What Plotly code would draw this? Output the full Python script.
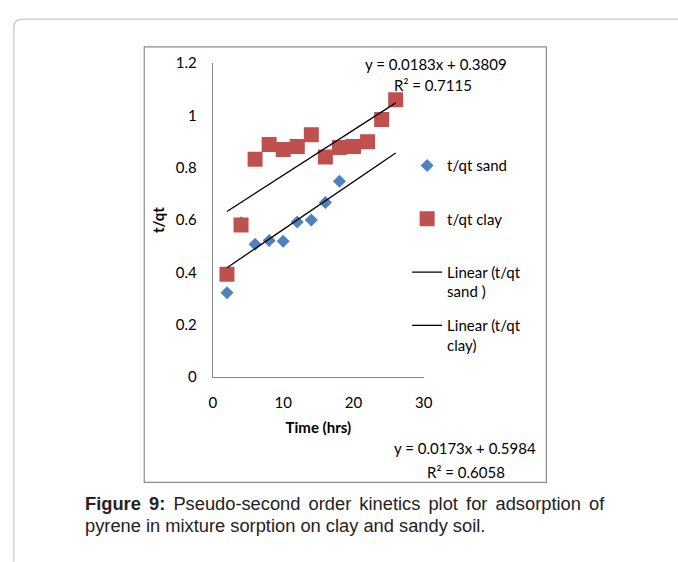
import plotly.graph_objects as go

W, H = 678, 562

# ---- data ----
time_sand = [2, 4, 6, 8, 10, 12, 14, 16, 18]
tqt_sand = [0.322, 0.590, 0.507, 0.522, 0.519, 0.593, 0.600, 0.667, 0.748]

time_clay = [2, 4, 6, 8, 10, 12, 14, 16, 18, 20, 22, 24, 26]
tqt_clay = [0.393, 0.581, 0.833, 0.889, 0.870, 0.881, 0.926, 0.841, 0.878, 0.881, 0.900, 0.985, 1.060]

trend_x = [2, 26]
sand_slope, sand_intercept, sand_r2 = 0.0183, 0.3809, 0.7115
clay_slope, clay_intercept, clay_r2 = 0.0173, 0.5984, 0.6058

x_ticks = [0, 10, 20, 30]
y_ticks = [0, 0.2, 0.4, 0.6, 0.8, 1.0, 1.2]
y_tick_labels = ["0", "0.2", "0.4", "0.6", "0.8", "1", "1.2"]

FONT = "Lato, Carlito, Calibri, sans-serif"
CAP_FONT = "Liberation Sans Narrow, Arial Narrow, Liberation Sans, Arial, sans-serif"


def px(x):
    return x / W


def py(y):
    return 1 - y / H


sand_fit = [sand_slope * x + sand_intercept for x in trend_x]
clay_fit = [clay_slope * x + clay_intercept for x in trend_x]

fig = go.Figure()
fig.add_trace(go.Scatter(
    x=time_sand, y=tqt_sand, mode="markers", name="t/qt sand",
    marker=dict(symbol="diamond", size=10, color="#4F81BD"),
    legend="legend"))
fig.add_trace(go.Scatter(
    x=time_clay, y=tqt_clay, mode="markers", name="t/qt clay",
    marker=dict(symbol="square", size=15, color="#C0504D"),
    legend="legend2"))
fig.add_trace(go.Scatter(
    x=trend_x, y=sand_fit, mode="lines", name="Linear (t/qt<br>sand )",
    line=dict(color="black", width=1.3), legend="legend3"))
fig.add_trace(go.Scatter(
    x=trend_x, y=clay_fit, mode="lines", name="Linear (t/qt<br>clay)",
    line=dict(color="black", width=1.3), legend="legend4"))

leg_common = dict(font=dict(family=FONT, size=15, color="#000"),
                  bgcolor="rgba(0,0,0,0)", xanchor="left", valign="top",
                  borderwidth=0)

fig.update_layout(
    width=W, height=H,
    margin=dict(l=0, r=0, t=0, b=0),
    paper_bgcolor="white", plot_bgcolor="white",
    xaxis=dict(domain=[px(213), px(428)], range=[0, 30], tickvals=x_ticks,
               showgrid=False, zeroline=False, showline=True,
               linecolor="#868686", linewidth=1.3, ticks="",
               ticklabelstandoff=12,
               tickfont=dict(family=FONT, size=15, color="#000"),
               title=dict(text="<b>Time (hrs)</b>", standoff=12,
                          font=dict(family=FONT, size=15, color="#000"))),
    yaxis=dict(domain=[py(379), py(55)], range=[0, 1.2], tickvals=y_ticks,
               ticktext=y_tick_labels,
               showgrid=False, zeroline=False, showline=True,
               linecolor="#868686", linewidth=1.3, ticks="",
               ticklabelstandoff=12,
               tickfont=dict(family=FONT, size=15, color="#000"),
               title=dict(text="<b>t/qt</b>", standoff=7,
                          font=dict(family=FONT, size=15, color="#000"))),
    legend=dict(x=px(411), y=py(161), yanchor="middle", **leg_common),
    legend2=dict(x=px(411), y=py(216), yanchor="middle", **leg_common),
    legend3=dict(x=px(411), y=py(254), yanchor="top", **leg_common),
    legend4=dict(x=px(411), y=py(309), yanchor="top", **leg_common),
    showlegend=True,
)

annots = [
    dict(x=px(440), y=py(56), text=f"y = {sand_slope}x + {sand_intercept}"),
    dict(x=px(437), y=py(77), text=f"R² = {sand_r2}"),
    dict(x=px(470), y=py(453), text=f"y = {clay_slope}x + {clay_intercept}"),
    dict(x=px(471), y=py(477), text=f"R² = {clay_r2}"),
]
for a in annots:
    fig.add_annotation(xref="paper", yref="paper", showarrow=False,
                       xanchor="center", yanchor="middle",
                       font=dict(family=FONT, size=15, color="#000"), **a)

sp = " \u200a\u200a"
line1 = sp.join(["<b>Figure", "9:</b>", "Pseudo-second", "order", "kinetics",
                 "plot", "for", "adsorption", "of"])
fig.add_annotation(xref="paper", yref="paper", showarrow=False,
                   x=px(81), y=py(510), xanchor="left", yanchor="middle",
                   text=line1,
                   font=dict(family=CAP_FONT, size=18.3, color="#222"))
fig.add_annotation(xref="paper", yref="paper", showarrow=False,
                   x=px(81), y=py(533), xanchor="left", yanchor="middle",
                   text="pyrene in mixture sorption on clay and sandy soil.",
                   font=dict(family=CAP_FONT, size=18.3, color="#222"))

# chart frame
fig.add_shape(type="rect", xref="paper", yref="paper",
              x0=px(143), x1=px(553), y0=py(488), y1=py(38),
              line=dict(color="#8c8c8c", width=1.2), layer="below")
# outer page frame with rounded corner
r = 9
path = (f"M {px(10)},{py(570)} L {px(10)},{py(9.5 + r)} "
        f"Q {px(10)},{py(9.5)} {px(10 + r)},{py(9.5)} L {px(690)},{py(9.5)}")
fig.add_shape(type="path", xref="paper", yref="paper", path=path,
              line=dict(color="#c8c8c8", width=1.2), layer="below")

fig.write_html("out.html",
               config={"displayModeBar": False},
               post_script="document.body.style.margin='0';"
                           "document.body.style.overflow='hidden';")
